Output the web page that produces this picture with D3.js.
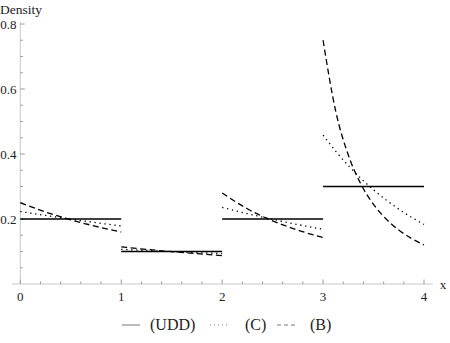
<!DOCTYPE html>
<html>
<head>
<meta charset="utf-8">
<script src="https://cdn.jsdelivr.net/npm/d3@7"></script>
<style>
  html,body{margin:0;padding:0;background:#fff;}
  svg{display:block;}
</style>
</head>
<body>
<svg id="chart" width="450" height="343" font-family="Liberation Serif, Times New Roman, Times, serif"></svg>
<script>
// ===== data =====
const yTicks = [0.2, 0.4, 0.6, 0.8];
const xTicks = [0, 1, 2, 3, 4];

// UDD: flat density on each year
const uddSegments = [[0,1,0.2],[1,2,0.1],[2,3,0.2],[3,4,0.3]];

// (C) dotted
const cSeg0 = [[0,0.2231],[0.25,0.2110],[0.5,0.1996],[0.75,0.1888],[1,0.1785]];
const cSeg1 = [[1,0.1068],[1.25,0.1033],[1.5,0.0999],[1.75,0.0966],[2,0.0935]];
const cSeg2 = [[2,0.2355],[2.25,0.2165],[2.5,0.1991],[2.75,0.1830],[3,0.1682]];
const cSeg3 = [[3,0.4581],[3.125,0.4086],[3.25,0.3643],[3.375,0.3249],[3.5,0.2898],[3.625,0.2584],[3.75,0.2304],[3.875,0.2055],[4,0.1833]];

// (B) dashed
const bSeg0 = [[0,0.25],[0.25,0.2215],[0.5,0.1975],[0.75,0.1773],[1,0.16]];
const bSeg1 = [[1,0.1143],[1.25,0.1065],[1.5,0.0996],[1.75,0.0932],[2,0.0875]];
const bSeg2 = [[2,0.28],[2.25,0.2314],[2.5,0.1944],[2.75,0.1657],[3,0.1429]];
const bSeg3 = [[3,0.75],[3.125,0.5319],[3.25,0.3967],[3.375,0.3072],[3.5,0.2449],[3.625,0.1998],[3.75,0.1661],[3.875,0.1403],[4,0.12]];

const legendItems = [
  {label:'(UDD)', dash:null},
  {label:'(C)', dash:'1,3'},
  {label:'(B)', dash:'4,3'}
];

// ===== layout =====
const svg = d3.select('#chart');
const x = d3.scaleLinear().domain([0,4]).range([20.3,424]);
const y = d3.scaleLinear().domain([0,0.8]).range([284,24]);

const gAxes = svg.append('g');
const gPlot = svg.append('g');

// x axis line
gAxes.append('line')
  .attr('x1', 12).attr('x2', 433)
  .attr('y1', y(0)).attr('y2', y(0))
  .attr('stroke','#c8c8c8').attr('stroke-width',1);
// y axis line
gAxes.append('line')
  .attr('x1', x(0)).attr('x2', x(0))
  .attr('y1', y(0)).attr('y2', 22)
  .attr('stroke','#c8c8c8').attr('stroke-width',1);

// x ticks (major + minor every 0.2)
const xMinor = d3.range(0, 4.01, 0.2).filter(v => Math.abs(v - Math.round(v)) > 1e-6);
gAxes.selectAll('line.xmaj').data(xTicks).join('line')
  .attr('x1', d=>x(d)).attr('x2', d=>x(d))
  .attr('y1', y(0)).attr('y2', y(0)-4.5)
  .attr('stroke','#999');
gAxes.selectAll('line.xmin').data(xMinor).join('line')
  .attr('x1', d=>x(d)).attr('x2', d=>x(d))
  .attr('y1', y(0)).attr('y2', y(0)-2.5)
  .attr('stroke','#999');
gAxes.selectAll('text.xl').data(xTicks).join('text')
  .attr('x', d=>x(d)).attr('y', 301)
  .attr('text-anchor','middle')
  .style('font-size','13px').attr('fill','#222')
  .text(d=>d);
gAxes.append('text').attr('x', 443).attr('y', 289)
  .attr('text-anchor','middle').style('font-size','13px').attr('fill','#222').text('x');

// y ticks (major + minor every 0.05)
const yMinor = d3.range(0.05, 0.801, 0.05).filter(v => yTicks.every(t => Math.abs(t - v) > 1e-6));
gAxes.selectAll('line.ymaj').data(yTicks).join('line')
  .attr('x1', x(0)).attr('x2', x(0)+4.5)
  .attr('y1', d=>y(d)).attr('y2', d=>y(d))
  .attr('stroke','#999');
gAxes.selectAll('line.ymin').data(yMinor).join('line')
  .attr('x1', x(0)).attr('x2', x(0)+2.5)
  .attr('y1', d=>y(d)).attr('y2', d=>y(d))
  .attr('stroke','#999');
gAxes.selectAll('text.yl').data(yTicks).join('text')
  .attr('x', 16.5).attr('y', d=>y(d)+4.5)
  .attr('text-anchor','end')
  .style('font-size','13px').attr('fill','#222')
  .text(d=>d3.format('.1f')(d));
gAxes.append('text').attr('x', 0).attr('y', 14)
  .style('font-size','13.5px').attr('fill','#222').text('Density');

// ===== series =====
const line = d3.line().x(d=>x(d[0])).y(d=>y(d[1])).curve(d3.curveMonotoneX);

gPlot.selectAll('line.udd').data(uddSegments).join('line')
  .attr('x1', d=>x(d[0])).attr('x2', d=>x(d[1]))
  .attr('y1', d=>y(d[2])).attr('y2', d=>y(d[2]))
  .attr('stroke','#000').attr('stroke-width',1.3);

gPlot.selectAll('path.c').data([cSeg0,cSeg1,cSeg2,cSeg3]).join('path')
  .attr('d', line).attr('fill','none')
  .attr('stroke','#000').attr('stroke-width',1.3)
  .attr('stroke-dasharray','1.3,3.7');

gPlot.selectAll('path.b').data([bSeg0,bSeg1,bSeg2,bSeg3]).join('path')
  .attr('d', line).attr('fill','none')
  .attr('stroke','#000').attr('stroke-width',1.3)
  .attr('stroke-dasharray','6,3.5');

// ===== legend =====
const legendX = [122, 210, 277];
const labelX = [150, 245, 310];
const lg = svg.append('g');
legendItems.forEach((it,i) => {
  lg.append('line').attr('x1',legendX[i]).attr('x2',legendX[i]+18).attr('y1',325).attr('y2',325)
    .attr('stroke','#777').attr('stroke-width',1)
    .attr('stroke-dasharray', it.dash);
  lg.append('text').attr('x', labelX[i]).attr('y', 330)
    .style('font-size','16px').attr('fill','#222').text(it.label);
});
</script>
</body>
</html>
